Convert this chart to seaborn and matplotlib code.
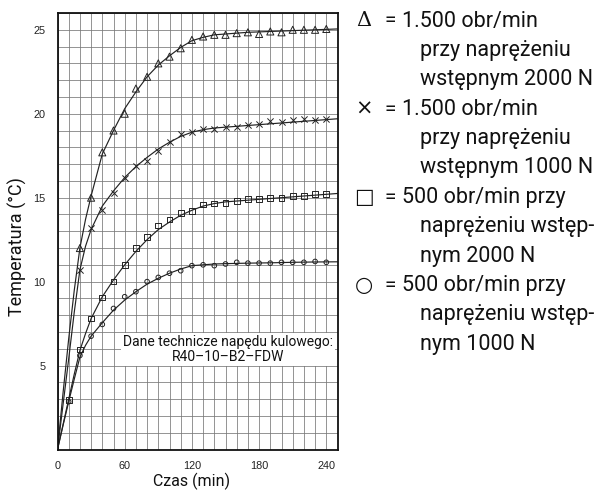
import matplotlib
matplotlib.use("Agg")
import matplotlib.pyplot as plt
import seaborn as sns
import numpy as np

# measured points (time in min, temperature in degC)
t_tri = [20, 30, 40, 50, 60, 70, 80, 90, 100, 110, 120, 130, 140, 150, 160, 170,
         180, 190, 200, 210, 220, 230, 240]
T_tri = [12.0, 15.0, 17.7, 19.0, 20.0, 21.5, 22.2, 23.0, 23.4, 23.9, 24.4, 24.6,
         24.7, 24.7, 24.8, 24.85, 24.75, 24.9, 24.85, 25.0, 25.0, 25.0, 25.05]

t_x = [20, 30, 40, 50, 60, 70, 80, 90, 100, 110, 120, 130, 140, 150, 160, 170,
       180, 190, 200, 210, 220, 230, 240]
T_x = [10.7, 13.2, 14.25, 15.25, 16.2, 16.9, 17.2, 17.8, 18.3, 18.8, 18.9, 19.1,
       19.1, 19.2, 19.2, 19.3, 19.4, 19.55, 19.5, 19.6, 19.7, 19.6, 19.7]

t_sq = [10, 20, 30, 40, 50, 60, 70, 80, 90, 100, 110, 120, 130, 140, 150, 160,
        170, 180, 190, 200, 210, 220, 230, 240]
T_sq = [2.95, 5.95, 7.8, 9.05, 10.0, 11.0, 12.0, 12.65, 13.35, 13.7, 14.1, 14.2,
        14.6, 14.65, 14.7, 14.8, 14.9, 14.9, 15.0, 15.0, 15.1, 15.1, 15.2, 15.2]

t_ci = [10, 20, 30, 40, 50, 60, 70, 80, 90, 100, 110, 120, 130, 140, 150, 160,
        170, 180, 190, 200, 210, 220, 230, 240]
T_ci = [2.85, 5.6, 6.75, 7.45, 8.4, 9.1, 9.4, 10.0, 10.25, 10.5, 10.65, 10.95,
        11.0, 10.95, 11.05, 11.15, 11.1, 11.1, 11.1, 11.15, 11.15, 11.15, 11.2, 11.15]

# fitted curves
t_curve = [0, 5, 10, 15, 20, 25, 30, 40, 50, 60, 70, 80, 90, 100, 110, 120, 130,
           140, 150, 170, 190, 210, 230, 250]
c_tri = [0, 3.4, 6.6, 9.5, 12.0, 13.7, 15.1, 17.6, 19.0, 20.3, 21.3, 22.2, 22.9,
         23.45, 23.95, 24.35, 24.55, 24.7, 24.75, 24.85, 24.9, 24.95, 25.0, 25.05]
c_x = [0, 2.7, 5.4, 8.2, 10.7, 12.1, 13.1, 14.5, 15.4, 16.2, 16.85, 17.4, 17.9,
       18.3, 18.65, 18.9, 19.05, 19.15, 19.2, 19.3, 19.4, 19.5, 19.6, 19.7]
c_sq = [0, 1.5, 3.0, 4.5, 5.9, 6.9, 7.8, 9.1, 10.1, 11.0, 11.8, 12.5, 13.1,
        13.55, 13.95, 14.25, 14.5, 14.65, 14.75, 14.85, 14.95, 15.05, 15.15, 15.25]
c_ci = [0, 1.45, 2.85, 4.2, 5.5, 6.2, 6.75, 7.55, 8.3, 8.9, 9.4, 9.85, 10.2,
        10.5, 10.75, 10.95, 11.0, 11.05, 11.07, 11.1, 11.12, 11.15, 11.17, 11.18]

x_ticks = [0, 60, 120, 180, 240]
y_ticks = [5, 10, 15, 20, 25]

legend_symbols = ["\u0394", "\u00d7", "\u25a1", "\u25cb"]
legend_labels = [
    ["1.500 obr/min", "przy naprężeniu", "wstępnym 2000 N"],
    ["1.500 obr/min", "przy naprężeniu", "wstępnym 1000 N"],
    ["500 obr/min przy", "naprężeniu wstęp-", "nym 2000 N"],
    ["500 obr/min przy", "naprężeniu wstęp-", "nym 1000 N"],
]
box_text = "Dane technicze napędu kulowego:\nR40\u201310\u2013B2\u2013FDW"

sns.set_theme(style="white")
plt.rcParams["font.family"] = ["Roboto", "DejaVu Sans"]

W, H = 614, 492
fig = plt.figure(figsize=(W / 100, H / 100), dpi=100)
ax = fig.add_axes([57.5 / W, 1 - 449.5 / H, 280 / W, 436.5 / H])

ink = "#222222"
for c in [c_tri, c_x, c_sq, c_ci]:
    sns.lineplot(x=t_curve, y=c, color=ink, lw=0.85, ax=ax)

sns.scatterplot(x=t_tri, y=T_tri, marker="^", s=26, facecolor="none",
                edgecolor=ink, linewidth=0.7, ax=ax, zorder=3)
sns.scatterplot(x=t_x, y=T_x, marker="x", s=20, color=ink, linewidth=0.7,
                ax=ax, zorder=3)
sns.scatterplot(x=t_sq, y=T_sq, marker="s", s=17, facecolor="none",
                edgecolor=ink, linewidth=0.7, ax=ax, zorder=3)
sns.scatterplot(x=t_ci, y=T_ci, marker="o", s=11, facecolor="none",
                edgecolor=ink, linewidth=0.7, ax=ax, zorder=3)

ax.set_xlim(0, 250)
ax.set_ylim(0, 26)
ax.set_xticks(x_ticks)
ax.set_yticks(y_ticks)
ax.set_xticks(np.arange(0, 251, 10), minor=True)
ax.set_yticks(np.arange(0, 27, 1), minor=True)
ax.grid(which="both", color="#777777", lw=0.55)
ax.set_axisbelow(True)
ax.tick_params(which="both", length=0, labelsize=7.8, pad=8.5, labelcolor="#222222")
for lab in ax.get_xticklabels() + ax.get_yticklabels():
    lab.set_family(["Liberation Sans", "DejaVu Sans"])
for sp in ax.spines.values():
    sp.set_color("#111111")
    sp.set_linewidth(1.3)

ax.set_xlabel("Czas (min)", fontsize=11.5, color="#111111")
ax.set_ylabel("Temperatura (°C)", fontsize=13, color="#111111")
ax.xaxis.set_label_coords(0.479, -0.054)
ax.yaxis.set_label_coords(-0.109, 0.466)

ax.text(152, 5.95, box_text, ha="center", va="center", fontsize=10,
        color="#111111", linespacing=1.05,
        bbox=dict(facecolor="white", edgecolor="none", pad=1.5))

# legend drawn as text, on the right
row = 0
for sym, lines in zip(legend_symbols, legend_labels):
    y0 = 20 + row * 29.4
    fam = ["DejaVu Serif"] if sym == "\u0394" else ["DejaVu Sans"]
    fig.text(364 / W, 1 - (y0 + 6.5) / H, sym, ha="center", va="baseline",
             fontsize=15, family=fam, color="#111111")
    fig.text(390 / W, 1 - (y0 + 6.5) / H, "=", ha="center", va="baseline",
             fontsize=15, color="#111111")
    for i, line in enumerate(lines):
        xx = 402 if i == 0 else 420
        fig.text(xx / W, 1 - (y0 + i * 29.4 + 6.5) / H, line, ha="left",
                 va="baseline", fontsize=15.5, color="#111111")
    row += 3

fig.savefig("out.png", dpi=100)
